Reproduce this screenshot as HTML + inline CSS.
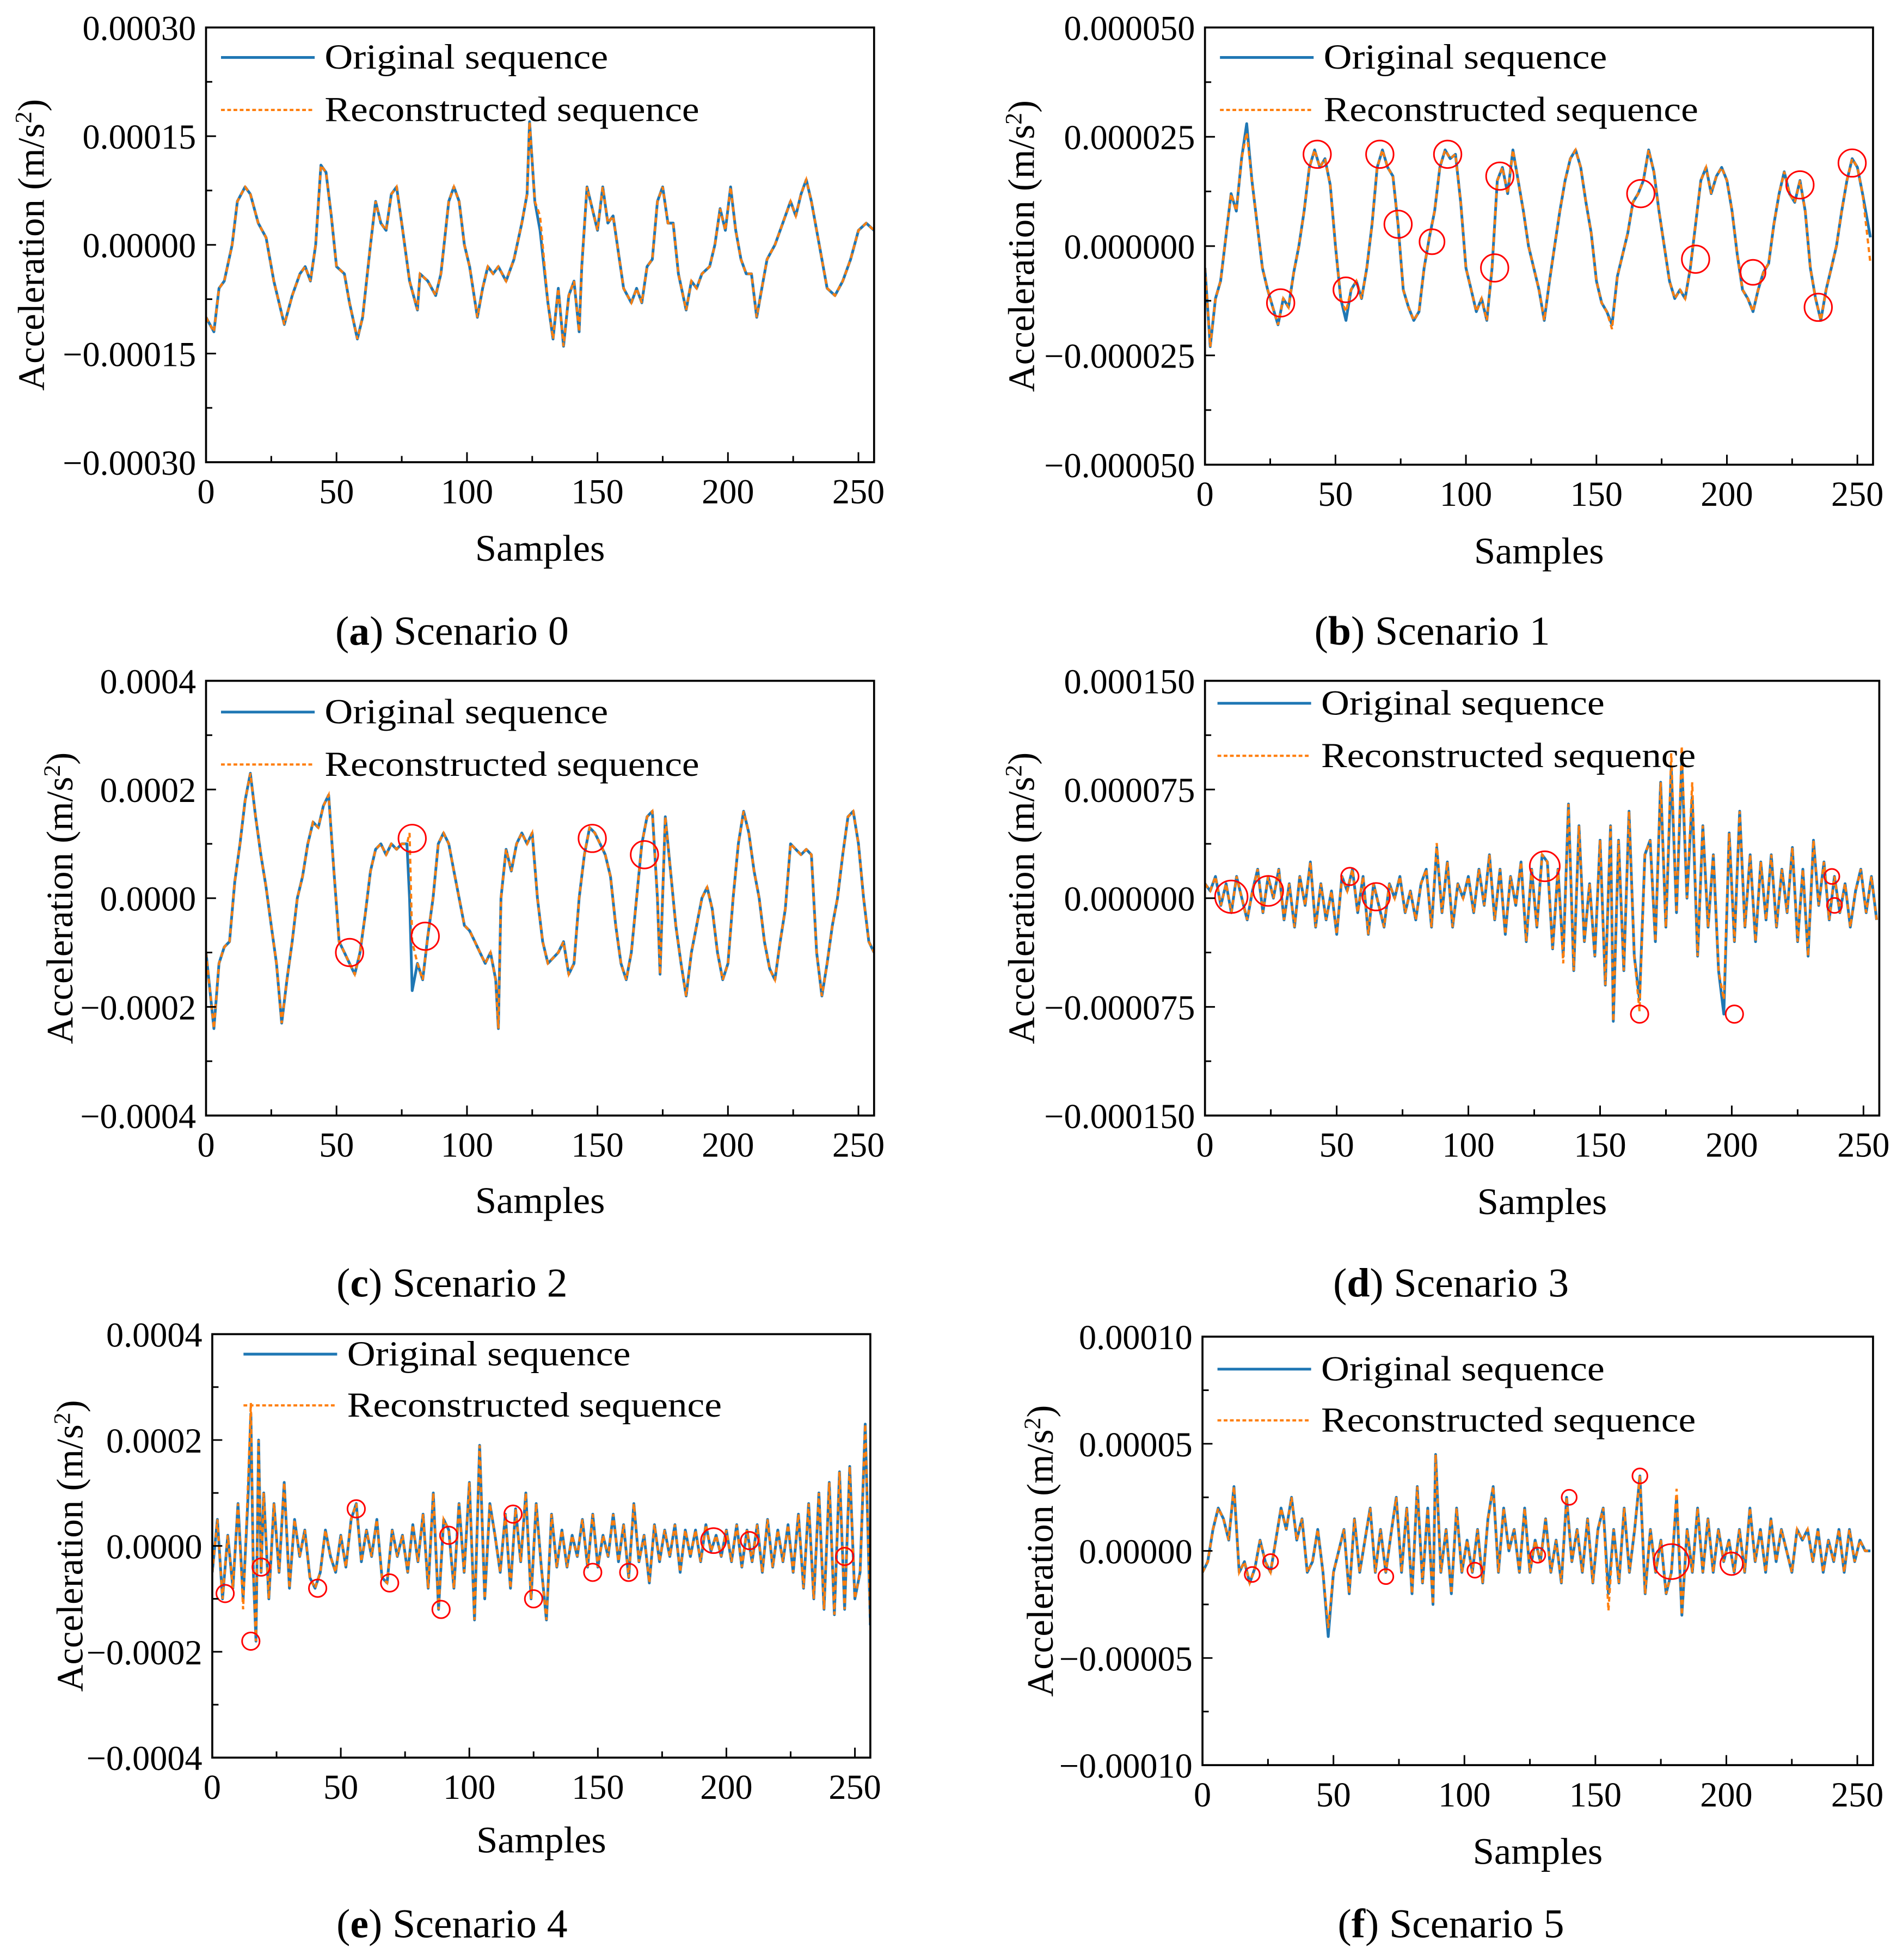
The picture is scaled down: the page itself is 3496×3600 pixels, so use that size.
<!DOCTYPE html>
<html><head><meta charset="utf-8"><style>
html,body{margin:0;padding:0;background:#fff}
svg{display:block}
text{font-family:"Liberation Serif",serif;fill:#000}
</style></head><body>
<svg id="fig" width="3496" height="3600" viewBox="0 0 1524 1569" preserveAspectRatio="none" xmlns="http://www.w3.org/2000/svg"></svg>
<script>
// ---- Panel (a) data, units 1e-5
const aX=[0,3,5,7,10,12,15,17,20,23,26,30,33,36,38,40,42,44,46,48,50,53,55,58,60,63,65,67,69,71,73,75,78,81,82,85,88,90,93,95,97,99,101,104,106,108,110,112,115,118,121,123,124,126,128,131,133,135,137,139,141,143,144,146,148,150,152,154,156,158,160,163,165,167,169,171,173,175,177,179,181,184,186,188,190,193,195,197,199,201,203,205,207,209,211,213,215,218,221,224,226,228,230,232,235,238,241,244,247,250,253,256];
const aY=[-10,-12,-6,-5,0,6,8,7,3,1,-5,-11,-7,-4,-3,-5,0,11,10,4,-3,-4,-8,-13,-10,0,6,3,2,7,8,3,-5,-9,-4,-5,-7,-4,6,8,6,0,-3,-10,-6,-3,-4,-3,-5,-2,3,7,17,6,2,-8,-13,-6,-14,-7,-5,-12,-3,8,5,2,8,3,4,-1,-6,-8,-6,-8,-3,-2,6,8,3,3,-4,-9,-5,-6,-4,-3,0,5,2,8,2,-2,-4,-4,-10,-6,-2,0,3,6,4,7,9,6,0,-6,-7,-5,-2,2,3,2];
const aRX=[128];const aRV=[4];
const aCX=[];const aCY=[];const aCR=[];
// ---- Panel (b) data, units 1e-6
const bX=[0,2,4,6,8,10,12,14,16,18,20,22,24,26,28,30,32,34,36,38,40,42,44,46,48,50,52,54,56,58,60,62,64,66,68,70,72,74,76,78,80,82,84,86,88,90,92,94,96,98,100,102,104,106,108,110,112,114,116,118,120,122,124,126,128,130,132,134,136,138,140,142,144,146,148,150,152,154,156,158,160,162,164,166,168,170,172,174,176,178,180,182,184,186,188,190,192,194,196,198,200,202,204,206,208,210,212,214,216,218,220,222,224,226,228,230,232,234,236,238,240,242,244,246,248,250,252,255];
const bY=[-5,-23,-12,-8,2,12,8,20,28,15,5,-5,-10,-14,-18,-12,-14,-6,0,8,18,22,18,20,14,0,-12,-17,-10,-8,-12,-5,5,18,22,18,16,5,-10,-14,-17,-15,-5,2,8,18,22,20,21,10,-5,-10,-15,-12,-17,-5,15,18,12,22,15,8,0,-5,-10,-17,-8,0,8,15,20,22,18,10,3,-8,-13,-15,-18,-7,-2,3,10,12,15,22,17,8,0,-8,-12,-10,-12,-5,5,15,18,12,16,18,15,8,-2,-10,-12,-15,-10,-6,-4,5,12,17,12,10,15,8,-5,-12,-17,-10,-5,0,8,15,20,18,12,2];
const bRX=[16,54,156,255];const bRV=[26,-15,-19,-4];
const bCX=[29,43,54,67,74,87,93,111,113,167,188,210,228,235,248];
const bCY=[-13,21,-10,21,5,1,21,-5,16,12,-3,-6,14,-14,19];
const bCR=[11,11,10,11,11,10,11,11,11,11,11,10,11,11,11];
// ---- Panel (c) data, units 1e-5
const cX=[0,3,5,7,9,11,13,15,17,19,21,23,25,27,29,31,33,35,37,39,41,43,45,47,49,51,53,55,57,59,61,63,65,67,69,71,73,75,77,78,79,81,83,85,87,89,91,93,95,97,99,101,103,105,107,109,111,112,113,115,117,119,121,123,125,127,129,131,133,135,137,139,141,143,145,147,149,151,153,155,157,159,161,163,165,167,169,171,173,174,176,178,180,182,184,186,188,190,192,194,196,198,200,202,204,206,208,210,212,214,216,218,220,222,224,226,228,230,232,234,236,238,240,242,244,246,248,250,252,254,256];
const cY=[-10,-24,-12,-9,-8,3,10,18,23,15,8,2,-5,-12,-23,-15,-8,0,4,10,14,13,17,19,5,-8,-10,-12,-14,-10,-3,5,9,10,8,10,9,10,10,0,-17,-12,-15,-7,0,10,12,10,5,0,-5,-6,-8,-10,-12,-10,-15,-24,0,9,5,10,12,10,12,0,-8,-12,-11,-10,-8,-14,-12,0,8,13,12,10,8,4,-5,-12,-15,-10,0,10,15,16,0,-14,15,5,-5,-12,-18,-10,-5,0,2,-2,-10,-15,-12,0,10,16,12,5,0,-8,-13,-15,-8,-2,10,9,8,9,8,-10,-18,-12,-5,0,8,15,16,10,0,-8,-10];
const cRX=[78,79];const cRV=[12,-8];
const cCX=[55,79,84,148,168];const cCY=[-10,11,-7,11,8];const cCR=[11,11,11,11,11];
// ---- Panel (d) data, units 1e-6
const dX=[0,2,4,6,8,10,12,14,16,18,20,22,24,26,28,30,32,34,36,38,40,42,44,46,48,50,52,54,56,58,60,62,64,66,68,70,72,74,76,78,80,82,84,86,88,90,92,94,96,98,100,102,104,106,108,110,112,114,116,118,120,122,124,126,128,130,132,134,136,138,140,142,144,146,148,150,152,154,155,157,159,161,163,165,167,169,171,173,175,177,179,181,183,185,187,189,191,193,195,197,199,201,203,205,207,209,211,213,215,217,219,221,223,225,227,229,231,233,235,237,239,241,243,245,247,249,251,253,255];
const dY=[10,5,15,-5,10,-10,15,0,-15,5,20,-10,15,0,20,-15,10,-20,15,-5,25,-20,10,-15,5,-25,15,5,20,-10,15,-25,10,-5,-20,10,0,15,-10,5,-15,10,20,-20,35,-10,25,-20,10,0,15,-10,20,-5,30,-15,20,-25,15,-5,25,-30,20,-20,30,25,-35,20,-40,65,-50,50,-30,10,-40,40,-60,50,-85,40,-50,60,-40,-70,30,40,-30,80,-20,90,-10,95,0,70,-40,50,-20,30,-50,-80,45,-30,60,-20,30,-30,25,-15,30,-20,20,-10,35,-30,20,-40,40,-5,25,-15,15,-10,10,-20,5,20,-10,15,-15];
const dRX=[88,136,165,177,181,185,197];const dRV=[38,-45,-78,100,105,80,-70];
const dCX=[10,24,55,65,129,165,201,238,239];const dCY=[1,5,15,1,22,-80,-80,15,-5];const dCR=[13,12,7,11,12,7,7,6,6];
// ---- Panel (e) data, units 1e-5
const eX=[0,2,4,6,8,10,12,14,15,16,17,18,19,20,22,24,26,28,30,32,34,36,38,40,42,44,46,48,50,52,54,56,58,60,62,64,66,68,70,72,74,76,78,80,82,84,86,88,90,92,94,96,98,100,102,104,106,108,110,112,114,116,118,120,122,124,126,128,130,132,134,136,138,140,142,144,146,148,150,152,154,156,158,160,162,164,166,168,170,172,174,176,178,180,182,184,186,188,190,192,194,196,198,200,202,204,206,208,210,212,214,216,218,220,222,224,226,228,230,232,234,236,238,240,242,244,246,248,250,252,254,256];
const eY=[-5,5,-10,2,-8,8,-10,10,25,-5,-18,20,-5,10,-10,8,-5,12,-8,5,-2,3,-6,-8,-5,3,-2,-5,2,-4,5,8,-3,3,-2,5,-6,-7,3,-2,2,-5,4,-3,6,-8,10,-12,5,3,-8,8,-5,12,-14,19,-10,8,2,-5,6,-8,7,-3,10,-10,8,-4,-14,6,-4,3,-4,2,-2,5,-4,6,-4,2,-2,6,-3,4,-6,8,-3,2,-7,4,-3,3,-2,4,-5,3,-2,3,-3,4,-1,2,-2,3,-3,4,-4,3,-3,4,-5,5,-4,3,-3,4,-5,6,-8,8,-10,10,-12,12,-13,14,-12,15,-10,-5,23,-15];
const eRX=[14,15,12];const eRV=[13,27,-12];
const eCX=[5,15,19,41,56,69,89,92,117,125,148,162,195,209,246];
const eCY=[-9,-18,-4,-8,7,-7,-12,2,6,-10,-5,-5,1,1,-2];
const eCR=[7,7,7,7,7,7,7,7,7,7,7,7,10,7,7];
// ---- Panel (f) data, units 1e-5
const fX=[0,2,4,6,8,10,12,14,16,18,20,22,24,26,28,30,32,34,36,38,40,42,44,46,48,50,52,54,56,58,60,62,64,66,68,70,72,74,76,78,80,82,84,86,88,89,91,93,95,97,99,101,103,105,107,109,111,113,115,117,119,121,123,125,127,129,131,133,135,137,139,141,143,145,147,149,151,153,155,157,159,161,163,165,167,169,171,173,175,177,179,181,183,185,187,189,191,193,195,197,199,201,203,205,207,209,211,213,215,217,219,221,223,225,227,229,231,233,235,237,239,241,243,245,247,249,251,253,255];
const fY=[-1,-0.5,1,2,1.5,0.5,3,-1,-0.5,-1.5,-0.8,0.5,-0.5,-1,0.5,2,1,2.5,0.5,1.5,-1,-0.5,1,-1,-4,-1,0,1,-2,1.5,-1,0.5,2,-1,1,-1,0.8,2.5,-1,2,-2,3,-1.5,2,-2.5,4.5,-1,1,-2,2,-1,0.5,-1,1,-1.5,1.5,3,-1,2,0,1,-1,2,-1,0.5,-0.5,1.5,-1,0.5,-1.5,2.5,-0.5,1,-1,1.5,-1.5,1,2,-2,1,-1.5,2,-1,1,3.5,-2,1,-1,0.5,-2,-1,2.5,-3,1,-1,2,-1,1.5,-1,1,-0.5,0.5,-1,1,-1,2,-0.5,1,-1,1.5,-0.5,1,0,-1,1,0.5,1,-0.5,1,-1,0.5,-0.5,1,-1,1,-0.5,0.5,0,0];
const fRX=[48,155,181];const fRV=[-3.6,-2.8,2.9];
const fCX=[19,26,70,104,128,140,167,179,202];const fCY=[-1.1,-0.5,-1.2,-0.9,-0.2,2.5,3.5,-0.5,-0.6];const fCR=[6,6,6,6,6,6,6,14,9];

const svg=document.getElementById('fig');
const NS='http://www.w3.org/2000/svg';
function mk(tag,attrs,parent){const e=document.createElementNS(NS,tag);for(const k in attrs)e.setAttribute(k,attrs[k]);(parent||svg).appendChild(e);return e;}

const panels=[
 {id:'a',L:165,R:700,T:22,B:370,ymax:30,yt:[30,15,0,-15,-30],yl:['0.00030','0.00015','0.00000','\u22120.00015','\u22120.00030'],ytx:25,xt:440,cap:'Scenario 0',cx:362,cy:505,lx:177,ly1:46,ly2:88,X:aX,Y:aY,RX:aRX,RV:aRV,CX:aCX,CY:aCY,CR:aCR},
 {id:'b',L:965,R:1500,T:22,B:372,ymax:50,yt:[50,25,0,-25,-50],yl:['0.000050','0.000025','0.000000','\u22120.000025','\u22120.000050'],ytx:818,xt:442,cap:'Scenario 1',cx:1147,cy:505,lx:977,ly1:46,ly2:88,X:bX,Y:bY,RX:bRX,RV:bRV,CX:bCX,CY:bCY,CR:bCR},
 {id:'c',L:165,R:700,T:545,B:893,ymax:40,yt:[40,20,0,-20,-40],yl:['0.0004','0.0002','0.0000','\u22120.0002','\u22120.0004'],ytx:48,xt:962,cap:'Scenario 2',cx:362,cy:1027,lx:177,ly1:570,ly2:612,X:cX,Y:cY,RX:cRX,RV:cRV,CX:cCX,CY:cCY,CR:cCR},
 {id:'d',L:965,R:1505,T:545,B:893,ymax:150,yt:[150,75,0,-75,-150],yl:['0.000150','0.000075','0.000000','\u22120.000075','\u22120.000150'],ytx:818,xt:963,cap:'Scenario 3',cx:1162,cy:1027,lx:975,ly1:563,ly2:605,X:dX,Y:dY,RX:dRX,RV:dRV,CX:dCX,CY:dCY,CR:dCR},
 {id:'e',L:170,R:697,T:1068,B:1407,ymax:40,yt:[40,20,0,-20,-40],yl:['0.0004','0.0002','0.0000','\u22120.0002','\u22120.0004'],ytx:56,xt:1474,cap:'Scenario 4',cx:362,cy:1540,lx:195,ly1:1084,ly2:1125,X:eX,Y:eY,RX:eRX,RV:eRV,CX:eCX,CY:eCY,CR:eCR},
 {id:'f',L:963,R:1500,T:1070,B:1413,ymax:10,yt:[10,5,0,-5,-10],yl:['0.00010','0.00005','0.00000','\u22120.00005','\u22120.00010'],ytx:833,xt:1483,cap:'Scenario 5',cx:1162,cy:1540,lx:975,ly1:1096,ly2:1137,X:fX,Y:fY,RX:fRX,RV:fRV,CX:fCX,CY:fCY,CR:fCR}
];

panels.forEach(p=>{
  const g=mk('g',{});
  
  
  const sx=v=>p.L+(p.R-p.L)*v/256;
  const sy=v=>p.T+(p.B-p.T)*(p.ymax-v)/(2*p.ymax);
  const pts=p.X.map((x,i)=>sx(x).toFixed(1)+','+sy(p.Y[i]).toFixed(1)).join(' ');
  const recY=p.Y.map((v,i)=>{const k=p.RX.indexOf(p.X[i]);return k>=0?p.RV[k]:v;});
  const rpts=p.X.map((x,i)=>sx(x).toFixed(1)+','+sy(recY[i]).toFixed(1)).join(' ');
  const clip=mk('clipPath',{id:'clip'+p.id},g);
  mk('rect',{x:p.L,y:p.T,width:p.R-p.L,height:p.B-p.T},clip);
  const o=mk('polyline',{points:pts,fill:'none',stroke:'#1f77b4','stroke-width':2.2,'stroke-linejoin':'round','clip-path':'url(#clip'+p.id+')'},g);
  
  
  const r=mk('polyline',{points:rpts,fill:'none',stroke:'#ff7f0e','stroke-width':1.8,'stroke-dasharray':'4 3','clip-path':'url(#clip'+p.id+')'},g);
  
  
  p.CX.forEach((cx,i)=>{
    const c=mk('circle',{cx:sx(cx),cy:sy(p.CY[i]),r:p.CR[i],fill:'none',stroke:'#ff0000','stroke-width':1.3},g);
    
    
  });
  const fr=mk('rect',{x:p.L,y:p.T,width:p.R-p.L,height:p.B-p.T,fill:'none',stroke:'#000','stroke-width':1.6},g);
  
  
  for(let v=0;v<=256;v+=25){
    const major=v%50===0;
    mk('line',{x1:sx(v),x2:sx(v),y1:p.B,y2:p.B-(major?8:5),stroke:'#000','stroke-width':1.3},g);
    if(major){const t=mk('text',{x:sx(v),y:p.B+33,'font-size':28,'text-anchor':'middle'},g);t.textContent=v;
      
      }
  }
  p.yt.forEach((v,i)=>{
    mk('line',{x1:p.L,x2:p.L+8,y1:sy(v),y2:sy(v),stroke:'#000','stroke-width':1.3},g);
    if(i<p.yt.length-1){const m=(v+p.yt[i+1])/2;mk('line',{x1:p.L,x2:p.L+5,y1:sy(m),y2:sy(m),stroke:'#000','stroke-width':1.3},g);}
    const t=mk('text',{x:p.L-8,y:sy(v)+10,'font-size':28,'text-anchor':'end'},g);t.textContent=p.yl[i];
    
    
  });
  const cx=(p.L+p.R)/2, cyy=(p.T+p.B)/2;
  const xt=mk('text',{x:cx,y:p.xt+9,'font-size':30,'text-anchor':'middle',textLength:104,lengthAdjust:'spacingAndGlyphs'},g);xt.textContent='Samples';
  
  
  const yt=mk('text',{x:0,y:0,'font-size':30,'text-anchor':'middle',transform:'translate('+(p.ytx+10)+','+cyy+') rotate(-90)'},g);
  yt.innerHTML='Acceleration (m/s<tspan dy="-10" font-size="19">2</tspan><tspan dy="10">)</tspan>';
  
  
  mk('line',{x1:p.lx,x2:p.lx+75,y1:p.ly1,y2:p.ly1,stroke:'#1f77b4','stroke-width':2.2},g);
  mk('line',{x1:p.lx,x2:p.lx+75,y1:p.ly2,y2:p.ly2,stroke:'#ff7f0e','stroke-width':1.8,'stroke-dasharray':'3 2'},g);
  const l1=mk('text',{x:p.lx+83,y:p.ly1+9,'font-size':28,textLength:227,lengthAdjust:'spacingAndGlyphs'},g);l1.textContent='Original sequence';
  
  
  const l2=mk('text',{x:p.lx+83,y:p.ly2+9,'font-size':28,textLength:300,lengthAdjust:'spacingAndGlyphs'},g);l2.textContent='Reconstructed sequence';
  
  
  const cap=mk('text',{x:p.cx,y:p.cy+11,'font-size':33,'text-anchor':'middle'},g);
  cap.innerHTML='(<tspan font-weight="bold">'+p.id+'</tspan>) '+p.cap;
  
  
});
</script>
</body></html>
